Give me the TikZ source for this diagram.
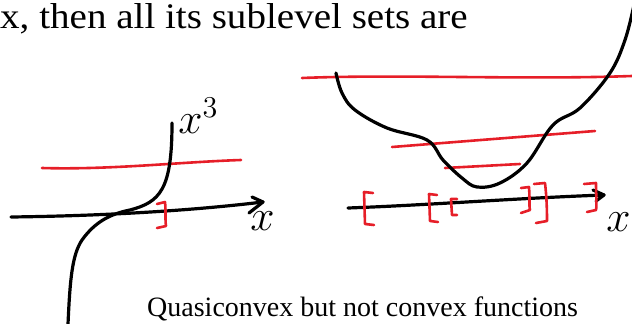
\documentclass[tikz,border=0pt]{standalone}
\usepackage{fontspec}
\setmainfont{Liberation Serif}
\usetikzlibrary{arrows.meta}
\definecolor{penred}{RGB}{230,30,40}
\tikzset{
  blk/.style={line width=3.2pt, line cap=round, line join=round, black},
  rd/.style={line width=2.6pt, line cap=round, line join=round, penred},
  hand/.style={inner sep=0pt, font=\fontsize{20}{20}\selectfont, scale=2.1},
}
\begin{document}
\begin{tikzpicture}[x=1pt,y=-1pt]
\useasboundingbox (0,0) rectangle (632,324);
% header text
\node[anchor=base west, inner sep=0pt, font=\fontsize{36}{36}\selectfont, xscale=1.085] (head) at (0,28) {x, then all its sublevel sets are};
% caption
\node[anchor=base west, inner sep=0pt, font=\fontsize{28}{28}\selectfont] (cap) at (147,316) {Quasiconvex but not convex functions};

% ---------- left plot ----------
\draw[rd] (42,168) .. controls (110,170) and (180,162) .. (241,160);
\coordinate (la0) at (11,217);
\coordinate (la1) at (263,202);
\draw[blk] (la0) .. controls (90,216) and (180,212) .. (la1);
\draw[blk] (252,197) -- (la1) -- (249,213);
\node[hand, anchor=base west] (lx) at (250,230) {$x$};
\draw[blk] (68,324) .. controls (70,280) and (72,255) .. (82,240)
  .. controls (95,222) and (110,214) .. (130,210)
  .. controls (160,202) and (172,190) .. (172,123);
\node[hand, anchor=base west] (lx3) at (178,133) {$x^3$};
\draw[rd] (157,204) -- (165,202) .. controls (166,210) and (165,220) .. (166,226) -- (157,228);

% ---------- right plot ----------
\draw[rd] (302,78) .. controls (400,74) and (520,80) .. (632,76);
\draw[rd] (392,147) -- (595,131);
\draw[rd] (445,168) -- (520,164);
\draw[blk] plot[smooth, tension=0.6] coordinates {
  (336,73) (342,93) (355,110) (387,128) (427,140) (443,160)
  (462,178) (477,187) (500,183) (527,163) (553,125) (580,108)
  (610,73) (625,40) (634,5)};
\coordinate (ra0) at (348,208);
\coordinate (ra1) at (604,195);
\draw[blk] (ra0) .. controls (430,205) and (520,198) .. (ra1);
\draw[blk] (593,190) -- (ra1) -- (596,201);
\node[hand, anchor=base west] (rx) at (606,231) {$x$};
% brackets
\draw[rd] (373,193) -- (364,192) -- (365,224) -- (374,225);
\draw[rd] (437,195) -- (429,194) -- (430,221) -- (438,222);
\draw[rd] (457,199) -- (451,199) -- (452,215) -- (457,215);
\draw[rd] (521,188) -- (529,187) .. controls (530,200) and (529,208) .. (530,210) -- (521,213);
\draw[rd] (534,184) -- (545,183) .. controls (547,200) and (547,215) .. (547,221) -- (536,223);
\draw[rd] (584,184) -- (596,183) .. controls (596,195) and (597,205) .. (596,210) -- (587,212);
\end{tikzpicture}
\end{document}
